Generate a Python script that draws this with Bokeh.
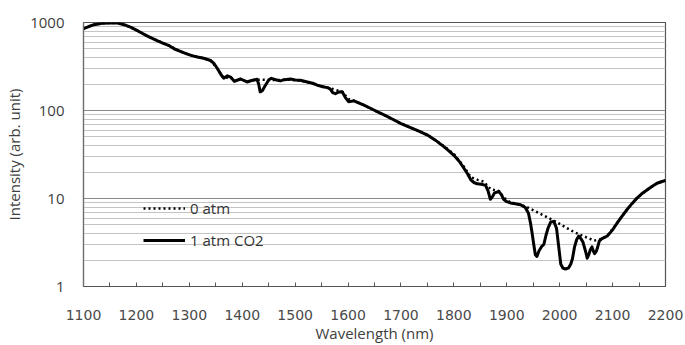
from bokeh.plotting import figure
from bokeh.models import Range1d, FixedTicker, Legend, LegendItem, PrintfTickFormatter
from bokeh.embed import file_html
from bokeh.resources import INLINE

# ---- data ----
wl_co2 = [1100, 1110, 1120, 1135, 1150, 1165, 1180, 1190, 1200, 1210, 1220, 1230, 1240, 1252, 1262,
          1272, 1283, 1295, 1305, 1315, 1325, 1332, 1340, 1347, 1353, 1360, 1365, 1372, 1378, 1385,
          1397, 1409, 1416, 1422, 1428, 1431, 1434, 1438, 1443, 1450, 1455, 1465, 1472, 1480, 1491,
          1500, 1510, 1523, 1533, 1542, 1552, 1561, 1566, 1571, 1576, 1582, 1589, 1595, 1601, 1606,
          1611, 1620, 1630, 1645, 1655, 1670, 1687, 1700, 1718, 1735, 1750, 1765, 1781, 1790, 1800,
          1810, 1819, 1826, 1832, 1838, 1844, 1852, 1860, 1865, 1869, 1873, 1877, 1885, 1890, 1894,
          1900, 1907, 1916, 1926, 1935, 1941, 1945, 1948, 1951, 1954, 1957, 1961, 1966, 1970, 1974,
          1978, 1983, 1989, 1994, 1998, 2002, 2006, 2011, 2017, 2021, 2024, 2028, 2032, 2036, 2040,
          2044, 2049, 2052, 2055, 2058, 2061, 2064, 2066, 2069, 2071, 2075, 2080, 2090, 2100, 2108,
          2118, 2127, 2137, 2146, 2155, 2165, 2175, 2184, 2192, 2200]
int_co2 = [850, 900, 945, 980, 990, 985, 930, 880, 820, 760, 705, 660, 620, 575, 545,
           500, 470, 440, 420, 405, 395, 385, 370, 340, 300, 255, 233, 248, 240, 215,
           228, 211, 218, 222, 226, 200, 163, 168, 190, 222, 232, 222, 217, 224, 228,
           222, 221, 211, 204, 194, 186, 182, 176, 160, 155, 162, 163, 140, 126, 127,
           129, 122, 115, 104, 97, 88, 78, 71, 64, 58, 52.6, 46, 38.8, 35, 31,
           26.5, 22.1, 19, 16.3, 15.2, 14.7, 14.5, 14.1, 12, 9.8, 10.5, 11.6, 12.0, 11.0, 9.8,
           9.2, 8.9, 8.7, 8.5, 7.9, 6.8, 5.2, 4.0, 3.0, 2.3, 2.2, 2.55, 2.85, 3.0, 3.8,
           4.6, 5.4, 5.5, 4.6, 2.9, 1.8, 1.62, 1.58, 1.63, 1.8, 2.05, 2.8, 3.4, 3.75, 3.5,
           3.2, 2.5, 2.1, 2.3, 2.62, 2.82, 2.5, 2.36, 2.5, 2.7, 3.3, 3.5, 3.75, 4.4, 5.2,
           6.3, 7.45, 8.8, 10.1, 11.3, 12.5, 13.8, 14.9, 15.5, 16.0]

wl_vac = [1100, 1110, 1120, 1135, 1150, 1165, 1180, 1200, 1220, 1240, 1262, 1283, 1305, 1325, 1340,
          1353, 1365, 1378, 1385, 1397, 1409, 1422, 1434, 1450, 1465, 1480, 1500, 1523, 1542, 1561,
          1576, 1589, 1601, 1611, 1630, 1655, 1687, 1718, 1750, 1781, 1800, 1819, 1832, 1845, 1856,
          1870, 1885, 1894, 1907, 1926, 1938, 1989, 2027, 2065, 2075, 2090, 2108, 2127, 2146, 2165,
          2184, 2200]
int_vac = [850, 900, 945, 980, 990, 985, 930, 820, 705, 620, 545, 470, 420, 395, 370,
           300, 233, 240, 215, 228, 211, 222, 224, 222, 222, 224, 222, 211, 194, 182,
           172, 163, 135, 129, 115, 97, 78, 64, 53, 39.5, 32, 23, 17.5, 16.3, 15.6,
           12.7, 12.2, 10.3, 9.0, 8.5, 8.0, 5.6, 4.16, 3.32, 3.4, 3.75, 5.2, 7.45, 10.1, 12.5,
           14.9, 16.0]

x_ticks = [1100, 1200, 1300, 1400, 1500, 1600, 1700, 1800, 1900, 2000, 2100, 2200]
x_minor = [1150, 1250, 1350, 1450, 1550, 1650, 1750, 1850, 1950, 2050, 2150]
y_ticks = [1, 10, 100, 1000]
y_minor = [m * d for d in (1, 10, 100) for m in range(2, 10)]

series_names = ["0 atm", "1 atm CO2"]

# ---- figure ----
p = figure(width=685, height=345, y_axis_type="log",
           x_range=Range1d(1100, 2200), y_range=Range1d(1, 1000),
           output_backend="svg", toolbar_location=None,
           min_border_left=83, min_border_right=20, min_border_top=22, min_border_bottom=58)
p.background_fill_color = "white"
p.border_fill_color = "white"
p.outline_line_color = "#555555"
p.outline_line_width = 1.2

r_co2 = p.line(wl_co2, int_co2, line_color="black", line_width=3, line_join="round")
r_vac = p.line(wl_vac, int_vac, line_color="black", line_width=2.5, line_dash="2 3")

# grid
p.xgrid.grid_line_color = None
p.ygrid.grid_line_color = "#8a8a8a"
p.ygrid.grid_line_width = 1.2
p.ygrid.minor_grid_line_color = "#c4c4c4"
p.ygrid.minor_grid_line_width = 1.2

# x axis
p.xaxis.ticker = FixedTicker(ticks=x_ticks, minor_ticks=x_minor)
p.xaxis.major_tick_in = 4
p.xaxis.major_tick_out = 0
p.xaxis.minor_tick_in = 4
p.xaxis.minor_tick_out = 0
p.xaxis.major_tick_line_color = "#555555"
p.xaxis.minor_tick_line_color = "#555555"
p.xaxis.axis_line_color = "#555555"
p.xaxis.axis_line_width = 1.2
p.xaxis.major_label_text_font = "DejaVu Sans"
p.xaxis.major_label_text_font_size = "14px"
p.xaxis.major_label_text_color = "#4a4a4a"
p.xaxis.major_label_standoff = 23
p.xaxis.axis_label = "Wavelength (nm)"
p.xaxis.axis_label_text_font = "Open Sans"
p.xaxis.axis_label_text_font_size = "15px"
p.xaxis.axis_label_text_font_style = "normal"
p.xaxis.axis_label_text_color = "#404040"
p.xaxis.axis_label_standoff = 0

# y axis
p.yaxis.ticker = FixedTicker(ticks=y_ticks, minor_ticks=y_minor)
p.yaxis.formatter = PrintfTickFormatter(format="%d")
p.yaxis.major_tick_line_color = None
p.yaxis.minor_tick_line_color = None
p.yaxis.major_tick_in = 0
p.yaxis.major_tick_out = 0
p.yaxis.minor_tick_in = 0
p.yaxis.minor_tick_out = 0
p.yaxis.axis_line_color = "#707070"
p.yaxis.axis_line_width = 1.2
p.yaxis.major_label_text_font = "Open Sans"
p.yaxis.major_label_text_font_size = "15px"
p.yaxis.major_label_text_color = "#404040"
p.yaxis.major_label_standoff = 19
p.yaxis.axis_label = "Intensity (arb. unit)"
p.yaxis.axis_label_text_font = "Open Sans"
p.yaxis.axis_label_text_font_size = "15px"
p.yaxis.axis_label_text_font_style = "normal"
p.yaxis.axis_label_text_color = "#404040"
p.yaxis.axis_label_standoff = 3

# legend
legend = Legend(items=[LegendItem(label=series_names[0], renderers=[r_vac]),
                       LegendItem(label=series_names[1], renderers=[r_co2])],
                location=(60, 36), orientation="vertical",
                glyph_width=42, glyph_height=20, label_height=20, spacing=12,
                label_standoff=5, padding=0, margin=0,
                border_line_alpha=0, background_fill_alpha=0,
                label_text_font="Open Sans", label_text_font_size="15px",
                label_text_color="#333333")
p.add_layout(legend, "center")

open("out.html", "w").write(file_html(p, INLINE))
